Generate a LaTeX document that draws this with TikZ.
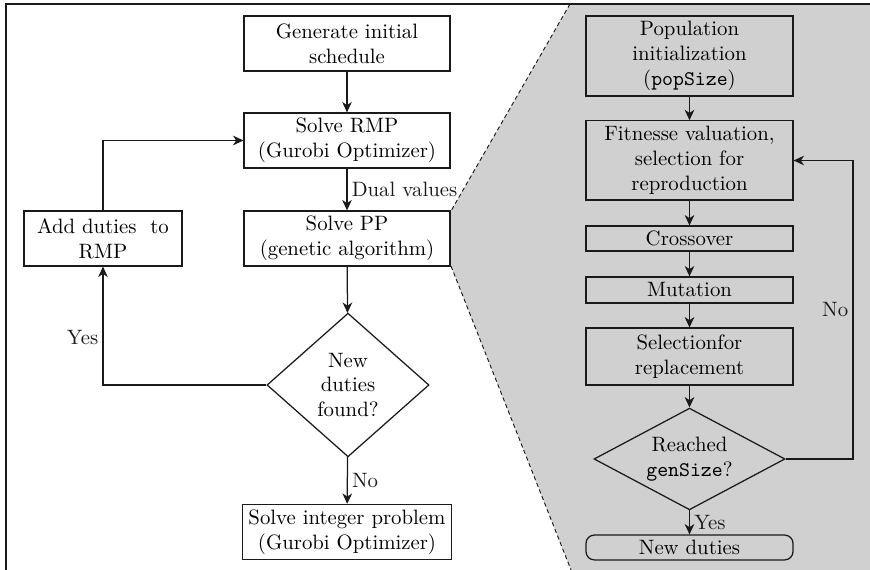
\documentclass[tikz,border=0pt]{standalone}
\usepackage{tikz}
\usetikzlibrary{arrows.meta,shapes.geometric}
\definecolor{ink}{HTML}{1A1A1A}
\definecolor{panelgray}{HTML}{D0D0D0}
\tikzset{
  frame/.style={draw=ink, line width=0.9pt},
  box/.style={draw=ink, line width=0.6pt, align=center, inner xsep=3pt, inner ysep=2pt},
  lbox/.style={box, minimum width=3.48cm, minimum height=0.93cm},
  rbox/.style={box, minimum width=3.50cm},
  ask/.style={diamond, draw=ink, line width=0.6pt, align=center, inner sep=0pt},
  arr/.style={draw=ink, line width=0.6pt, -{Stealth[length=5pt,width=4.6pt,inset=1.5pt]}},
  zoomline/.style={draw=ink, line width=0.45pt, dash pattern=on 2pt off 1.4pt},
  lab/.style={text=ink, inner sep=2pt},
}

\begin{document}
\begin{tikzpicture}[x=0.0169cm,y=-0.0169cm]
  \clip (0,0) rectangle (870,570);
  % magnified genetic algorithm panel
  \fill[panelgray] (570,4) -- (451,211) -- (451,266) -- (573,575) -- (880,575) -- (880,4) -- cycle;
  \draw[zoomline] (570,4) -- (451,211);
  \draw[zoomline] (451,266) -- (573,575);
  \draw[frame] (6,4) rectangle (880,580);

  % column generation loop
  \node[lbox] (init) at (347,43.5) {Generate initial\\schedule};
  \node[lbox] (rmp) at (347,140.5) {Solve RMP\\(Gurobi Optimizer)};
  \node[lbox] (pp) at (347,238.5) {Solve PP\\(genetic algorithm)};
  \node[box, minimum width=2.67cm, minimum height=0.93cm] (add) at (103,238.5) {Add duties~ to\\RMP};
  \node[ask, aspect=1.12, minimum width=2.74cm, minimum height=2.43cm] (found) at (348,385) {New\\duties\\found?};
  \node[lbox] (ip) at (347,532) {Solve integer problem\\(Gurobi Optimizer)};

  \draw[arr] (init) -- (rmp);
  \draw[arr] (rmp) -- node[lab,right] {Dual values} (pp);
  \draw[arr] (pp) -- (found);
  \draw[arr] (found) -- node[lab,right] {No} (ip);
  \draw[arr] (found.west) -| node[lab,pos=0.7,left] {Yes} (add.south);
  \draw[arr] (add.north) |- (rmp.west);

  % genetic algorithm
  \node[rbox, minimum height=1.35cm] (pop) at (689.5,56) {Population\\initialization\\(\texttt{popSize})};
  \node[rbox, minimum height=1.34cm] (fit) at (689.5,160.5) {Fitnesse valuation,\\selection for\\reproduction};
  \node[rbox, minimum height=0.42cm] (cross) at (689.5,238.5) {Crossover};
  \node[rbox, minimum height=0.44cm] (mut) at (689.5,290) {Mutation};
  \node[rbox, minimum height=0.96cm] (sel) at (689.5,356.5) {Selectionfor\\replacement};
  \node[ask, aspect=1.87, minimum width=3.23cm, minimum height=1.72cm] (reach) at (689.5,459) {Reached\\\texttt{genSize}?};
  \node[rbox, rounded corners=4pt, minimum height=0.42cm] (new) at (689.5,547.5) {New duties};
  \coordinate (back) at (853,160.5);

  \draw[arr] (pop) -- (fit);
  \draw[arr] (fit) -- (cross);
  \draw[arr] (cross) -- (mut);
  \draw[arr] (mut) -- (sel);
  \draw[arr] (sel) -- (reach);
  \draw[arr] (reach) -- node[lab,right] {Yes} (new);
  \draw[arr] (reach.east) -| node[lab,pos=0.75,left] {No} (back) -- (fit.east);
\end{tikzpicture}
\end{document}
